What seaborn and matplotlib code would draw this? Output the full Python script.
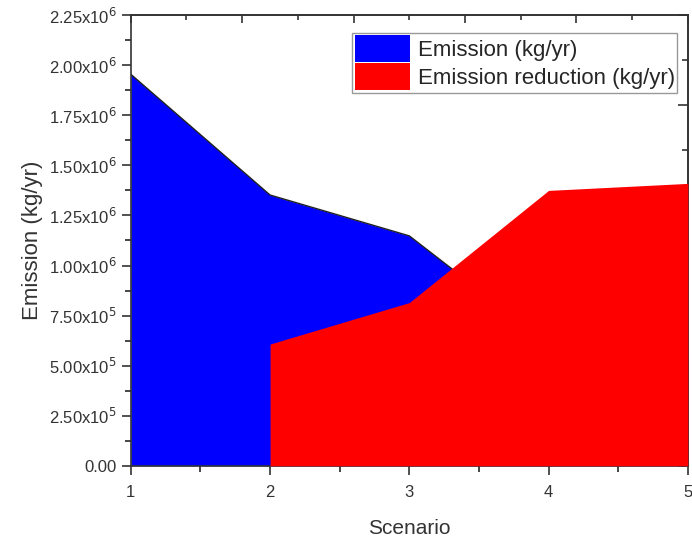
import numpy as np
import pandas as pd
import matplotlib
matplotlib.use("Agg")
import matplotlib.pyplot as plt
from matplotlib.ticker import FuncFormatter, MultipleLocator, NullFormatter
import seaborn as sns

# данные
scenario = [1, 2, 3, 4, 5]
emission = [1.955e6, 1.352e6, 1.148e6, 0.61e6, 0.55e6]
reduction_scenario = [2, 3, 4, 5]
emission_reduction = [0.608e6, 0.815e6, 1.375e6, 1.41e6]

df_em = pd.DataFrame({"Scenario": scenario, "Emission": emission})
df_red = pd.DataFrame({"Scenario": reduction_scenario, "Reduction": emission_reduction})

sns.set_theme(style="ticks")
plt.rcParams["font.family"] = ["Liberation Sans", "DejaVu Sans"]

fig = plt.figure(figsize=(6.92, 5.41), dpi=100)
ax = fig.add_axes([0.189, 0.139, 0.805, 0.833])

ax.fill_between(df_em["Scenario"], df_em["Emission"], color="#0000ff",
                label="Emission (kg/yr)", zorder=2, linewidth=0)
sns.lineplot(data=df_em, x="Scenario", y="Emission", color="#222222",
             linewidth=1, ax=ax, zorder=2.5)
ax.fill_between(df_red["Scenario"], df_red["Reduction"], color="#ff0000",
                label="Emission reduction (kg/yr)", zorder=3, linewidth=0)

ax.set_xlim(1, 5)
ax.set_ylim(0, 2.25e6)
ax.xaxis.set_major_locator(MultipleLocator(1))
ax.xaxis.set_minor_locator(MultipleLocator(0.5))
ax.yaxis.set_major_locator(MultipleLocator(0.25e6))
ax.yaxis.set_minor_locator(MultipleLocator(0.125e6))


def fmt(v, pos):
    if v < 1:
        return "0.00" if abs(v) < 1 else ""
    e = int(np.floor(np.log10(v)))
    m = v / 10 ** e
    return f"{m:.2f}x10$^{{{e}}}$"


ax.yaxis.set_major_formatter(FuncFormatter(fmt))
ax.tick_params(axis="both", which="major", length=6.5, width=1.2, labelsize=12,
               colors="#333333", labelcolor="#333333", direction="out")
ax.tick_params(axis="x", which="major", pad=7)
ax.tick_params(axis="both", which="minor", length=4, width=1.2, direction="out")
ax.tick_params(top=False, right=False, which="both")
for s in ax.spines.values():
    s.set_linewidth(1.2)
    s.set_color("#333333")
    s.set_visible(True)

# верхняя и правая оси - свои засечки внутрь
top = ax.secondary_xaxis("top")
top.xaxis.set_major_locator(MultipleLocator(0.8, offset=0.2))
top.xaxis.set_minor_locator(MultipleLocator(0.4, offset=0.2))
top.xaxis.set_major_formatter(NullFormatter())
top.tick_params(which="major", direction="in", length=6, width=1.2, colors="#333333")
top.tick_params(which="minor", direction="in", length=3.5, width=1.2, colors="#333333")
top.spines["top"].set_linewidth(1.2)
top.spines["top"].set_color("#333333")

right = ax.secondary_yaxis("right")
right.yaxis.set_major_locator(MultipleLocator(0.45e6))
right.yaxis.set_minor_locator(MultipleLocator(0.225e6))
right.yaxis.set_major_formatter(NullFormatter())
right.tick_params(which="major", direction="in", length=7, width=1.2, colors="#333333")
right.tick_params(which="minor", direction="in", length=4.5, width=1.2, colors="#333333")
right.spines["right"].set_linewidth(1.2)
right.spines["right"].set_color("#333333")

ax.set_xlabel("Scenario", fontsize=15, color="#333333", labelpad=14)
ax.set_ylabel("Emission (kg/yr)", fontsize=16, color="#333333", labelpad=4)

ax.legend(loc="upper right", bbox_to_anchor=(0.981, 0.961), fontsize=16,
          frameon=True, fancybox=False, edgecolor="#999999", framealpha=1,
          handlelength=2.5, handleheight=1.5, borderpad=0.1, labelspacing=0.05,
          handletextpad=0.35, borderaxespad=0)

fig.savefig("out.png", dpi=100)
